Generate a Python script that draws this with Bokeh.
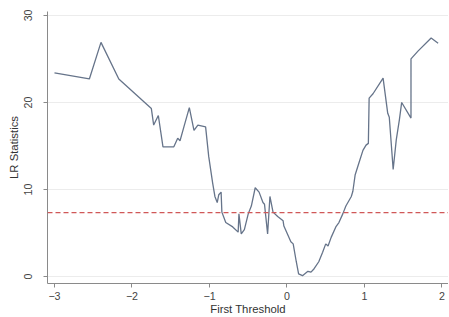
from bokeh.plotting import figure
from bokeh.models import Range1d, Span, FixedTicker
from bokeh.embed import file_html
from bokeh.resources import INLINE

threshold = [-3.0, -2.55, -2.4, -2.17, -1.75, -1.72, -1.66, -1.60, -1.52, -1.46,
             -1.41, -1.38, -1.33, -1.26, -1.20, -1.15, -1.05, -1.01, -0.96, -0.93,
             -0.90, -0.88, -0.85, -0.84, -0.79, -0.70, -0.63, -0.62, -0.59, -0.55,
             -0.50, -0.46, -0.41, -0.36, -0.31, -0.29, -0.25, -0.22, -0.18, -0.12,
             -0.05, -0.04, 0.05, 0.08, 0.12, 0.15, 0.20, 0.27, 0.31, 0.35,
             0.41, 0.46, 0.50, 0.53, 0.57, 0.63, 0.67, 0.72, 0.76, 0.83,
             0.85, 0.88, 0.93, 0.98, 1.02, 1.05, 1.06, 1.11, 1.24, 1.30,
             1.32, 1.37, 1.41, 1.45, 1.48, 1.60, 1.60, 1.69, 1.86, 1.95]
lr_stat = [23.4, 22.7, 26.9, 22.7, 19.3, 17.4, 18.5, 14.9, 14.9, 14.9,
           15.9, 15.6, 17.2, 19.4, 16.8, 17.4, 17.2, 13.8, 10.8, 9.2,
           8.5, 9.4, 9.7, 7.4, 6.2, 5.7, 5.1, 7.2, 4.9, 5.4,
           7.2, 8.1, 10.2, 9.7, 8.5, 8.3, 4.9, 9.2, 7.4, 6.9,
           6.4, 5.8, 4.0, 3.75, 1.7, 0.3, 0.1, 0.6, 0.5, 0.9,
           1.7, 2.8, 3.75, 3.5, 4.5, 5.7, 6.2, 7.2, 8.1, 9.2,
           9.8, 11.7, 13.1, 14.5, 15.1, 15.3, 20.5, 21.0, 22.8, 18.75,
           18.3, 12.3, 15.7, 18.0, 20.0, 18.2, 25.0, 25.9, 27.4, 26.8]
critical_value = 7.35
x_ticks = [-3, -2, -1, 0, 1, 2]
y_ticks = [0, 10, 20, 30]

p = figure(width=448, height=317, output_backend="svg", toolbar_location=None,
           x_range=Range1d(-3.09, 2.084), y_range=Range1d(-0.8, 30.45),
           min_border_left=47, min_border_right=0, min_border_top=11, min_border_bottom=31)
p.outline_line_color = None
p.background_fill_color = "white"
p.border_fill_color = "white"

p.line(threshold, lr_stat, line_color="#66748a", line_width=1.3)
p.add_layout(Span(location=critical_value, dimension="width", line_color="#d05858",
                  line_dash="5 3", line_width=1.2))

p.xgrid.grid_line_color = None
p.ygrid.grid_line_color = "#ececec"
p.ygrid.grid_line_width = 1

p.xaxis.ticker = FixedTicker(ticks=x_ticks)
p.yaxis.ticker = FixedTicker(ticks=y_ticks)
for ax in (p.xaxis[0], p.yaxis[0]):
    ax.axis_line_color = "#8a8a8a"
    ax.major_tick_line_color = "#8a8a8a"
    ax.major_tick_out = 4
    ax.major_tick_in = 0
    ax.minor_tick_line_color = None
    ax.major_label_text_font = "Liberation Sans"
    ax.major_label_text_font_size = "8pt"
    ax.major_label_text_color = "#444444"
    ax.axis_label_text_font = "Liberation Sans"
    ax.axis_label_text_font_size = "8.5pt"
    ax.axis_label_text_font_style = "normal"
    ax.axis_label_text_color = "#333333"

p.xaxis.major_label_standoff = 4
p.xaxis.axis_label_standoff = 0
p.yaxis.major_label_standoff = 11
p.yaxis.axis_label_standoff = 2

p.yaxis.major_label_orientation = "vertical"
p.xaxis.axis_label = "First Threshold"
p.yaxis.axis_label = "LR Statistics"

open("out.html", "w").write(file_html(p, INLINE))
